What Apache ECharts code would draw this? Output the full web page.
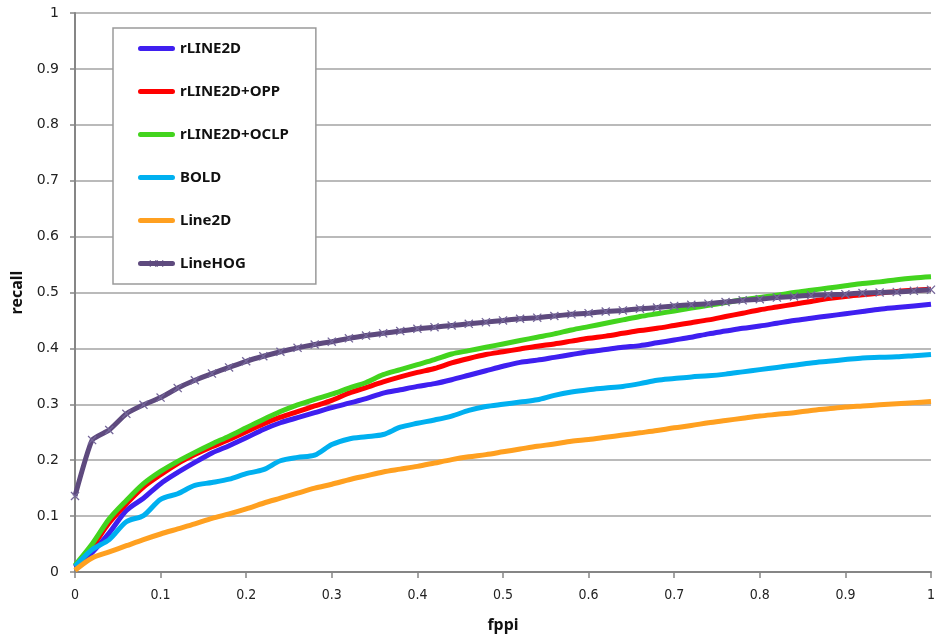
<html>
<head>
    <meta charset="utf-8" />
    <script src="https://cdn.jsdelivr.net/npm/echarts@6/dist/echarts.min.js"></script>
    <style>
        body { margin: 0; background: #fff; }
        #chart { width: 938px; height: 641px; }
    </style>
</head>
<body>
    <div id="chart"></div>
    <script>
        // fppi sample points (x axis)
        var fppi = [0, 0.02, 0.04, 0.06, 0.08, 0.1, 0.12, 0.14, 0.16, 0.18,
            0.2, 0.22, 0.24, 0.26, 0.28, 0.3, 0.32, 0.34, 0.36, 0.38,
            0.4, 0.42, 0.44, 0.46, 0.48, 0.5, 0.52, 0.54, 0.56, 0.58,
            0.6, 0.62, 0.64, 0.66, 0.68, 0.7, 0.72, 0.74, 0.76, 0.78,
            0.8, 0.82, 0.84, 0.86, 0.88, 0.9, 0.92, 0.94, 0.96, 0.98, 1]

        var rline2d = [0.008, 0.035, 0.07, 0.11, 0.132, 0.158, 0.178, 0.196, 0.213, 0.226,
            0.24, 0.255, 0.267, 0.276, 0.285, 0.294, 0.302, 0.31, 0.32, 0.326,
            0.332, 0.337, 0.344, 0.352, 0.36, 0.368, 0.375, 0.379, 0.384, 0.389,
            0.394, 0.398, 0.402, 0.405, 0.41, 0.415, 0.42, 0.426, 0.431, 0.436,
            0.44, 0.445, 0.45, 0.454, 0.458, 0.462, 0.466, 0.47, 0.473, 0.476, 0.479]

        var rline2dOpp = [0.01, 0.045, 0.088, 0.122, 0.152, 0.174, 0.194, 0.21, 0.224, 0.237,
            0.251, 0.265, 0.277, 0.287, 0.297, 0.307, 0.32, 0.33, 0.34, 0.349,
            0.357, 0.364, 0.374, 0.382, 0.389, 0.394, 0.399, 0.404, 0.408, 0.413,
            0.418, 0.422, 0.427, 0.432, 0.436, 0.441, 0.446, 0.451, 0.457, 0.463,
            0.469, 0.474, 0.479, 0.484, 0.489, 0.493, 0.496, 0.499, 0.502, 0.504, 0.506]

        var rline2dOclp = [0.012, 0.05, 0.095, 0.128, 0.158, 0.18, 0.198, 0.214, 0.229, 0.243,
            0.258, 0.273, 0.287, 0.299, 0.309, 0.318, 0.329, 0.339, 0.353, 0.362,
            0.371, 0.38, 0.39, 0.396, 0.402, 0.408, 0.414, 0.42, 0.426, 0.433,
            0.439, 0.445, 0.451, 0.457, 0.462, 0.467, 0.472, 0.477, 0.482, 0.487,
            0.491, 0.495, 0.5, 0.504, 0.508, 0.512, 0.516, 0.519, 0.523, 0.526, 0.528]

        var bold = [0.01, 0.04, 0.058, 0.09, 0.101, 0.13, 0.14, 0.155, 0.16, 0.166,
            0.176, 0.183, 0.199, 0.205, 0.209, 0.228, 0.238, 0.242, 0.246, 0.259,
            0.266, 0.272, 0.279, 0.289, 0.296, 0.3, 0.304, 0.308, 0.316, 0.322,
            0.326, 0.329, 0.332, 0.337, 0.343, 0.346, 0.349, 0.351, 0.354, 0.358,
            0.362, 0.366, 0.37, 0.374, 0.377, 0.38, 0.383, 0.384, 0.385, 0.387, 0.389]

        var line2d = [0.003, 0.025, 0.036, 0.047, 0.058, 0.068, 0.077, 0.086, 0.096, 0.104,
            0.113, 0.123, 0.132, 0.141, 0.15, 0.157, 0.165, 0.172, 0.179, 0.184,
            0.189, 0.195, 0.201, 0.206, 0.21, 0.215, 0.22, 0.225, 0.229, 0.234,
            0.237, 0.241, 0.245, 0.249, 0.253, 0.258, 0.262, 0.267, 0.271, 0.275,
            0.279, 0.282, 0.285, 0.289, 0.292, 0.295, 0.297, 0.299, 0.301, 0.303, 0.305]

        var lineHog = [0.136, 0.236, 0.254, 0.283, 0.299, 0.312, 0.329, 0.343, 0.355, 0.366,
            0.377, 0.386, 0.394, 0.401, 0.407, 0.412, 0.418, 0.423, 0.427, 0.431,
            0.435, 0.438, 0.441, 0.444, 0.447, 0.45, 0.453, 0.455, 0.458, 0.461,
            0.463, 0.466, 0.468, 0.471, 0.473, 0.476, 0.478, 0.48, 0.483, 0.486,
            0.488, 0.491, 0.493, 0.495, 0.496, 0.497, 0.499, 0.5, 0.501, 0.503, 0.505]

        var names = ['rLINE2D', 'rLINE2D+OPP', 'rLINE2D+OCLP', 'BOLD', 'Line2D', 'LineHOG']
        var colors = ['#3f1ff0', '#ff0000', '#43d41e', '#00b0f0', '#ffa020', '#5e4a7e']
        var values = [rline2d, rline2dOpp, rline2dOclp, bold, line2d, lineHog]

        // little filled "x" for the LineHOG markers
        var crossPath = 'path://M0,1L1,0L5,4L9,0L10,1L6,5L10,9L9,10L5,6L1,10L0,9L4,5Z'

        // legend icons drawn in a 37x10 box (tiny corner specks keep the box size)
        var boxAnchors = 'M0,0L0.01,0L0,0.01Z M37,10L36.99,10L37,9.99Z '
        var barIcon = 'path://' + boxAnchors + 'M2.5,2.5H34.5A2.5,2.5,0,0,1,34.5,7.5H2.5A2.5,2.5,0,0,1,2.5,2.5Z'
        var hogIcon = barIcon +
            ' M11.5,2.2L12.2,1.5L15,4.3L17.8,1.5L18.5,2.2L15.7,5L18.5,7.8L17.8,8.5L15,5.7L12.2,8.5L11.5,7.8L14.3,5Z' +
            ' M18.5,2.2L19.2,1.5L22,4.3L24.8,1.5L25.5,2.2L22.7,5L25.5,7.8L24.8,8.5L22,5.7L19.2,8.5L18.5,7.8L21.3,5Z'

        function pairs(ys) {
            return fppi.map(function (x, i) { return [x, ys[i]] })
        }

        var seriesList = []
        var legendData = []
        for (var i = 0; i < names.length; i++) {
            var isHog = names[i] === 'LineHOG'
            seriesList.push({
                name: names[i],
                type: 'line',
                data: pairs(values[i]),
                color: colors[i],
                lineStyle: { width: 5, color: colors[i] },
                showSymbol: isHog,
                symbol: isHog ? crossPath : 'none',
                symbolSize: 9,
                itemStyle: { color: isHog ? '#75679a' : colors[i] },
                smooth: isHog ? 0.15 : 0.3,
                animation: false
            })
            legendData.push({ name: names[i], icon: isHog ? hogIcon : barIcon, itemStyle: { color: colors[i] } })
        }

        var option = {
            animation: false,
            grid: { left: 75, right: 3, top: 13, bottom: 69 },
            legend: {
                orient: 'vertical',
                left: 113,
                top: 28,
                padding: [12, 27, 12, 25],
                itemGap: 26,
                itemWidth: 37,
                itemHeight: 10,
                borderColor: '#9a9a9a',
                borderWidth: 1.5,
                backgroundColor: '#fff',
                textStyle: {
                    fontFamily: 'Noto Sans',
                    fontWeight: 'bold',
                    fontSize: 15,
                    lineHeight: 17,
                    color: '#111'
                },
                data: legendData
            },
            xAxis: {
                type: 'value',
                min: 0,
                max: 1,
                interval: 0.1,
                name: 'fppi',
                nameLocation: 'middle',
                nameGap: 45,
                nameTextStyle: { fontFamily: 'Noto Sans', fontWeight: 'bold', fontSize: 16, color: '#111' },
                axisLine: { lineStyle: { color: '#868686', width: 2 } },
                axisTick: { show: true, length: 6, lineStyle: { color: '#868686', width: 1.5 } },
                axisLabel: { margin: 16, fontFamily: 'DejaVu Sans Condensed', fontSize: 14, color: '#222' },
                splitLine: { show: false }
            },
            yAxis: {
                type: 'value',
                min: 0,
                max: 1,
                interval: 0.1,
                name: 'recall',
                nameLocation: 'middle',
                nameGap: 39,
                nameRotate: 90,
                nameTextStyle: { fontFamily: 'Noto Sans', fontWeight: 'bold', fontSize: 16, color: '#111' },
                axisLine: { show: true, lineStyle: { color: '#868686', width: 2 } },
                axisTick: { show: true, length: 5, lineStyle: { color: '#868686', width: 1.5 } },
                axisLabel: { margin: 16, fontFamily: 'DejaVu Sans', fontSize: 14, color: '#222' },
                splitLine: { show: true, lineStyle: { color: '#a3a3a3', width: 1.5 } }
            },
            series: seriesList
        }

        var chart = echarts.init(document.getElementById('chart'))
        chart.setOption(option)
    </script>
</body>
</html>
